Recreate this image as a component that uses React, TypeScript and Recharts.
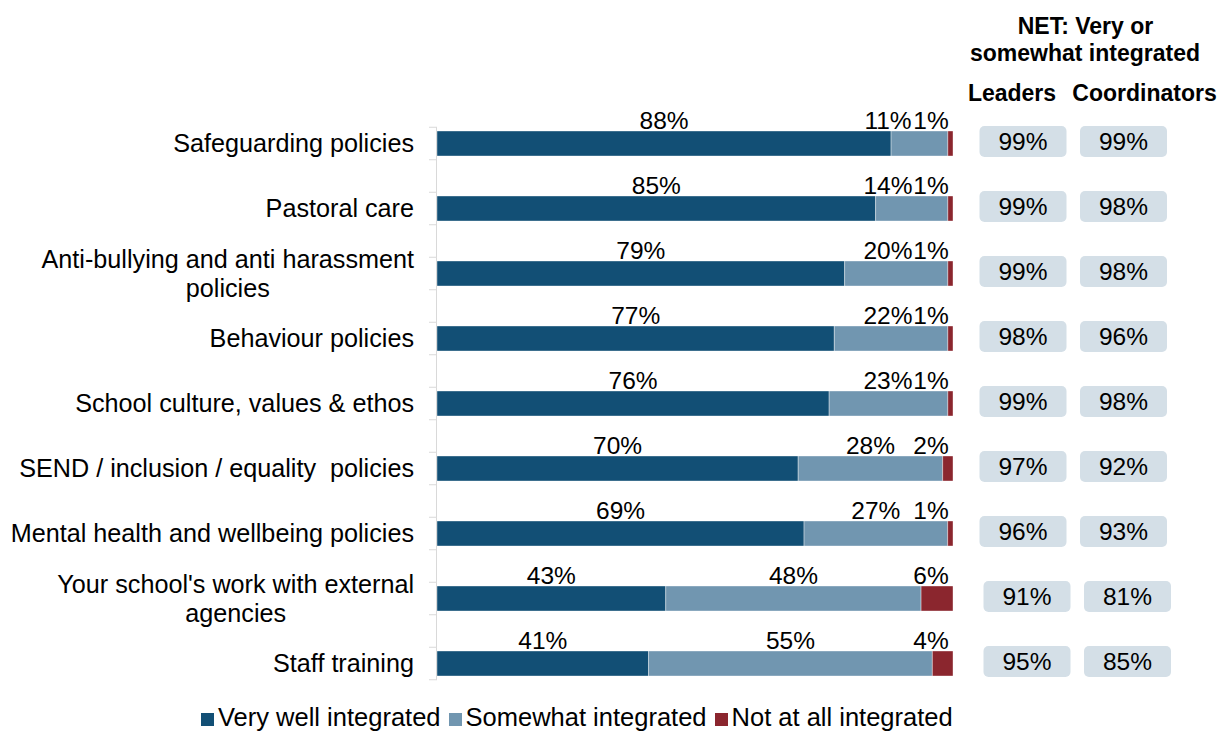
import React from 'react';
import { BarChart, Bar, XAxis, YAxis, Legend } from 'recharts';

const categories = [
  'Safeguarding policies',
  'Pastoral care',
  'Anti-bullying and anti harassment\npolicies',
  'Behaviour policies',
  'School culture, values & ethos',
  'SEND / inclusion / equality  policies',
  'Mental health and wellbeing policies',
  "Your school's work with external\nagencies",
  'Staff training',
];
const veryWell = [88, 85, 79, 77, 76, 70, 69, 43, 41];
const somewhat = [11, 14, 20, 22, 23, 28, 27, 48, 55];
const notAtAll = [1, 1, 1, 1, 1, 2, 1, 6, 4];
const netLeaders = [99, 99, 99, 98, 99, 97, 96, 91, 95];
const netCoordinators = [99, 98, 98, 96, 98, 92, 93, 81, 85];
const seriesNames = ['Very well integrated', 'Somewhat integrated', 'Not at all integrated'];
const netTitle = ['NET: Very or', 'somewhat integrated'];
const netColumns = ['Leaders', 'Coordinators'];

const COLORS = ['#124f75', '#7196b0', '#8b262e'];
const BOX_FILL = '#d4dfe7';
const AXIS_GRAY = '#d9d9d9';
const FONT = '"Liberation Sans", Arial, sans-serif';

const CHART_W = 1210;
const CHART_H = 725;
const TOP = 103;
const PLOT_H = 585;
const BOTTOM = CHART_H - TOP - PLOT_H;
const LEFT_AXIS_W = 429;
const RIGHT_AXIS_W = 265;
const PLOT_LEFT = LEFT_AXIS_W;
const PLOT_RIGHT = CHART_W - RIGHT_AXIS_W;
const BAND = PLOT_H / categories.length;
const NET_COL_X = [1015, 1115.5];
const CAT_FS = 25.2;
const LEG_FS = 25.5;
const VAL_FS = 24.5;

if (typeof document !== 'undefined') {
  document.body.style.margin = '0';
}

const data = categories.map((name, i) => ({
  name,
  very: veryWell[i],
  some: somewhat[i],
  not: notAtAll[i],
}));

let ctx: CanvasRenderingContext2D | null = null;
function textWidth(s: string, font: string): number {
  if (!ctx) {
    const c = document.createElement('canvas');
    ctx = c.getContext('2d');
  }
  if (!ctx) return s.length * 12;
  ctx.font = font;
  return ctx.measureText(s).width;
}

const CategoryTick = (props: any) => {
  const { y, payload, index } = props;
  const lines = String(payload.value).split('\n');
  const fs = CAT_FS;
  const right = PLOT_LEFT - 23;
  const q = BAND / 4;
  const last = index === categories.length - 1;
  const lineGap = 29;
  let texts;
  if (lines.length === 1) {
    texts = (
      <text x={right} y={y + fs * 0.35} textAnchor="end" fontSize={fs} fontFamily={FONT} fill="#000" style={{ whiteSpace: 'pre' }}>
        {lines[0]}
      </text>
    );
  } else {
    const maxW = Math.max(...lines.map((l) => textWidth(l, `${fs}px ${FONT}`)));
    const cx = right - maxW / 2;
    texts = lines.map((l, i) => (
      <text key={i} x={cx} y={y + (i - (lines.length - 1) / 2) * lineGap + fs * 0.35} textAnchor="middle" fontSize={fs} fontFamily={FONT} fill="#000" style={{ whiteSpace: 'pre' }}>
        {l}
      </text>
    ));
  }
  return (
    <g>
      <line x1={PLOT_LEFT - 0.5} x2={PLOT_LEFT - 0.5} y1={y - q} y2={last ? y + q : y + 3 * q} stroke={AXIS_GRAY} strokeWidth={1} />
      <line x1={PLOT_LEFT - 8} x2={PLOT_LEFT} y1={y - q} y2={y - q} stroke={AXIS_GRAY} strokeWidth={1} />
      <line x1={PLOT_LEFT - 8} x2={PLOT_LEFT} y1={y + q} y2={y + q} stroke={AXIS_GRAY} strokeWidth={1} />
      {texts}
    </g>
  );
};

const NetTick = (props: any) => {
  const { y, index } = props;
  const vals = [netLeaders[index], netCoordinators[index]];
  const cy = y - 2;
  const w = 87;
  const h = 31;
  const shift = index >= 7 ? 4 : 0;
  return (
    <g>
      {vals.map((v, i) => (
        <g key={i}>
          <rect x={NET_COL_X[i] + shift - w / 2} y={cy - h / 2} width={w} height={h} rx={5} ry={5} fill={BOX_FILL} />
          <text x={NET_COL_X[i] + shift} y={cy + VAL_FS * 0.35} textAnchor="middle" fontSize={VAL_FS} fontFamily={FONT} fill="#000">
            {`${v}%`}
          </text>
        </g>
      ))}
    </g>
  );
};

const makeLabel = (kind: 'very' | 'some' | 'not') => (props: any) => {
  const { x, y, width, index } = props;
  const raw = kind === 'very' ? veryWell[index] : kind === 'some' ? somewhat[index] : notAtAll[index];
  let cx = x + width / 2;
  if (kind === 'some') cx = Math.min(cx, PLOT_RIGHT - 65);
  if (kind === 'not') cx = Math.min(cx, PLOT_RIGHT - 22);
  return (
    <text x={cx} y={y - 2} textAnchor="middle" fontSize={VAL_FS} fontFamily={FONT} fill="#000">
      {`${raw}%`}
    </text>
  );
};

const renderLegend = (props: any) => {
  const payload = [...(props.payload || [])].sort(
    (a: any, b: any) => seriesNames.indexOf(a.value) - seriesNames.indexOf(b.value)
  );
  return (
    <div style={{ font: `${LEG_FS}px ${FONT}`, lineHeight: '26px', whiteSpace: 'nowrap', color: '#000' }}>
      {payload.map((p: any, i: number) => (
        <span key={i} style={{ marginRight: i < payload.length - 1 ? 8 : 0 }}>
          <span style={{ display: 'inline-block', width: 13, height: 13, background: p.color, marginRight: 4 }} />
          {p.value}
        </span>
      ))}
    </div>
  );
};

const headerStyle: React.CSSProperties = {
  position: 'absolute',
  width: 300,
  textAlign: 'center',
  font: `bold 23px ${FONT}`,
  lineHeight: '27px',
  color: '#000',
  whiteSpace: 'nowrap',
};

export default function App() {
  return (
    <div style={{ paddingTop: 8, paddingLeft: 8, height: CHART_H }}>
      <div style={{ position: 'relative', width: CHART_W, height: CHART_H }}>
        <BarChart
          width={CHART_W}
          height={CHART_H}
          data={data}
          layout="vertical"
          stackOffset="expand"
          margin={{ top: TOP, right: 0, bottom: BOTTOM, left: 0 }}
        >
          <XAxis type="number" hide domain={[0, 1]} />
          <YAxis
            yAxisId={0}
            type="category"
            dataKey="name"
            width={LEFT_AXIS_W}
            axisLine={false}
            tickLine={false}
            tick={<CategoryTick />}
            interval={0}
          />
          <YAxis
            yAxisId="net"
            orientation="right"
            type="category"
            dataKey="name"
            width={RIGHT_AXIS_W}
            axisLine={false}
            tickLine={false}
            tick={<NetTick />}
            interval={0}
          />
          <Bar yAxisId={0} dataKey="very" name={seriesNames[0]} stackId="a" fill={COLORS[0]} barSize={25} stroke="#ffffff" strokeOpacity={0.5} strokeWidth={0.75} isAnimationActive={false} label={makeLabel('very')} />
          <Bar yAxisId={0} dataKey="some" name={seriesNames[1]} stackId="a" fill={COLORS[1]} barSize={25} stroke="#ffffff" strokeOpacity={0.5} strokeWidth={0.75} isAnimationActive={false} label={makeLabel('some')} />
          <Bar yAxisId={0} dataKey="not" name={seriesNames[2]} stackId="a" fill={COLORS[2]} barSize={25} stroke="#ffffff" strokeOpacity={0.5} strokeWidth={0.75} isAnimationActive={false} label={makeLabel('not')} />
          <Legend
            layout="horizontal"
            verticalAlign="middle"
            align="center"
            content={renderLegend}
            wrapperStyle={{ top: 696, left: 193, width: 'auto', height: 26 }}
          />
        </BarChart>
        <div style={{ ...headerStyle, left: 1077.5 - 150, top: 5 }}>{netTitle[0]}</div>
        <div style={{ ...headerStyle, left: 1077 - 150, top: 32 }}>{netTitle[1]}</div>
        <div style={{ ...headerStyle, left: 1004 - 150, top: 72 }}>{netColumns[0]}</div>
        <div style={{ ...headerStyle, left: 1136.5 - 150, top: 72 }}>{netColumns[1]}</div>
      </div>
    </div>
  );
}
